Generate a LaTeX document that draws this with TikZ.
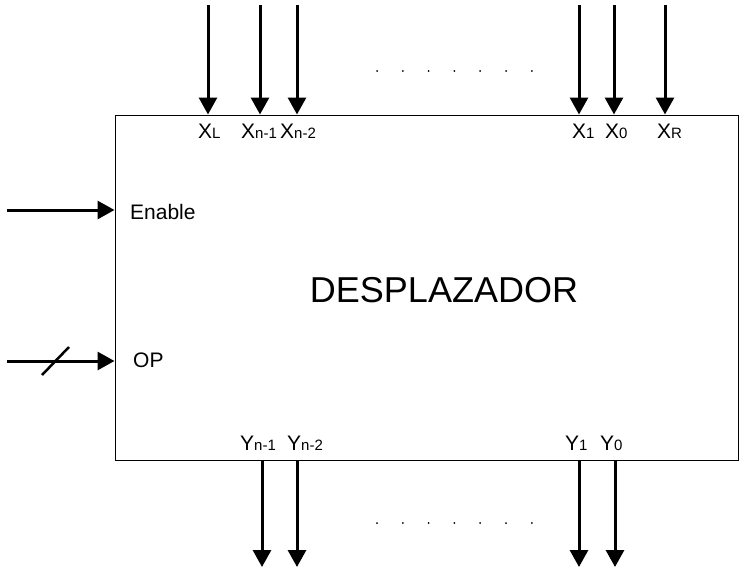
\documentclass[tikz,border=0pt]{standalone}
\usepackage{fontspec}
\setmainfont{Liberation Sans}
\usetikzlibrary{arrows.meta}
\newcommand\siglbl[2]{{\fontsize{21}{21}\selectfont #1\fontsize{15}{15}\selectfont #2}}
\begin{document}
\begin{tikzpicture}[x=1pt,y=-1pt,
  sig/.style={line width=3pt,-{Triangle[length=17pt,width=18pt]}},
  lbl/.style={inner sep=0pt,anchor=base west},
  dotrow/.style={fill=black,circle,inner sep=0pt,minimum size=2pt}]
\useasboundingbox (0,0) rectangle (753,568);
\node[draw,line width=1pt,minimum width=623pt,minimum height=345pt,inner sep=0pt] (box) at (426.5,287.5) {};
\node[inner sep=0pt] (title) at (444,290) {\fontsize{36}{36}\selectfont DESPLAZADOR};
% top inputs
\foreach \n/\x in {xl/208,xa/260,xb/297,x1/579,x0/614,xr/665}{
  \coordinate (s\n) at (\x,5);
  \draw[sig] (s\n) -- (s\n |- box.north);
}
\node[lbl] (lxl) at (198,138) {\siglbl{X}{L}};
\node[lbl] (lxa) at (241,138) {\siglbl{X}{n-1}};
\node[lbl] (lxb) at (280,138) {\siglbl{X}{n-2}};
\node[lbl] (lx1) at (572,138) {\siglbl{X}{1}};
\node[lbl] (lx0) at (605,138) {\siglbl{X}{0}};
\node[lbl] (lxr) at (657,138) {\siglbl{X}{R}};
% bottom outputs
\foreach \n/\x in {ya/262,yb/297,y1/579,y0/615}{
  \coordinate (e\n) at (\x,567);
  \draw[sig] (e\n |- box.south) -- (e\n);
}
\node[lbl] (lya) at (240,450) {\siglbl{Y}{n-1}};
\node[lbl] (lyb) at (287,450) {\siglbl{Y}{n-2}};
\node[lbl] (ly1) at (565,450) {\siglbl{Y}{1}};
\node[lbl] (ly0) at (600,450) {\siglbl{Y}{0}};
% dots
\foreach \i in {0,...,6}{
  \node[dotrow] (dt\i) at (377+25.8*\i,71) {};
  \node[dotrow] (db\i) at (377+25.8*\i,523) {};
}
% left inputs
\coordinate (en) at (7,210);
\draw[sig] (en) -- (en -| box.west);
\node[lbl] (len) at (130,219) {\fontsize{21}{21}\selectfont Enable};
\coordinate (op) at (7,361);
\draw[sig] (op) -- (op -| box.west);
\coordinate (sl1) at (42,375);
\coordinate (sl2) at (69,347);
\draw[line width=2.5pt] (sl1) -- (sl2);
\node[lbl] (lop) at (133,367) {\fontsize{21}{21}\selectfont OP};
\end{tikzpicture}
\end{document}
